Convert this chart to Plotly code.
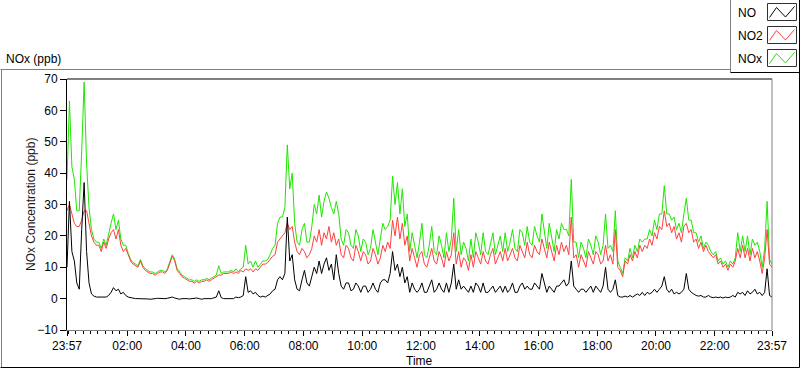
import plotly.graph_objects as go
from datetime import datetime, timedelta

# ---------------- data (ppb, 5-minute samples starting 23:57) ----------------
START = datetime(2000, 1, 1, 23, 57)
STEP_MIN = 5

NO = [
    10, 31, 15, 12, 5, 3, 22, 37, 15, 5,
    1.5, 0.8, 0.5, 0.5, 0.3, 0.5, 0.5, 1.0, 2.0, 3.5,
    2.5, 3.0, 1.5, 2.0, 1.0, 0.5, 0.3, 0.2, 0.0, 0.0,
    0.0, 0.1, 0.0, -0.1, -0.2, 0.0, 0.0, 0.1, 0.0, 0.0,
    0.0, 0.1, 0.3, 0.5, 0.2, 0.0, -0.2, 0.0, 0.1, 0.0,
    -0.1, 0.0, 0.0, 0.2, 0.0, -0.2, 0.0, 0.1, 0.0, 0.0,
    0.2, 0.5, 2.5, 0.3, 0.0, 0.0, 0.0, 0.2, 0.0, 0.5,
    0.3, 0.5, 1.0, 7.0, 2.0, 2.5, 1.5, 2.0, 1.0, 0.5,
    0.8, 0.5, 1.0, 1.5, 2.5, 3.0, 6.0, 7.0, 6.0, 8.0,
    26, 12, 14, 6, 3, 2.5, 6, 9, 5, 4,
    7, 10, 8, 12, 8, 11, 13, 9, 11, 6,
    14, 8, 4, 3, 5, 5, 2.5, 3, 5, 4,
    2, 4, 4, 2, 3, 5, 3, 2, 5, 6,
    6, 5, 8, 15, 9, 11, 7, 10, 5, 7,
    2, 5, 3, 2, 3, 5, 2, 2, 4, 6,
    2, 3, 5, 3, 2, 5, 2, 5, 11, 3,
    6, 3, 4, 3, 2, 4, 2, 5, 4, 2,
    5, 2, 2, 3, 4, 2, 3, 4, 2, 4,
    2, 3, 5, 2, 2, 4, 5, 3, 4, 3,
    3, 5, 4, 3, 8, 5, 2, 4, 3, 2,
    4, 4, 5, 6, 4, 5, 12, 4, 3, 2,
    3, 3, 2, 3, 4, 2, 4, 3, 2, 4,
    10, 3, 2, 3, 6, 1, 0.5, 0.5, 0.8, 0.5,
    1, 0.5, 1, 1.5, 1, 2, 1, 2, 1.5, 2,
    3, 2, 3, 4, 7, 3, 2, 3, 1.5, 2,
    1.5, 2, 3, 8, 3, 2, 1.5, 1, 0.8, 1,
    0.5, 0.5, 1, 0.5, 0.3, 0.5, 0.3, 0.5, 0.2, 0.5,
    0.3, 0.5, 1, 0.5, 2, 1.5, 2, 1, 2.5, 1.5,
    2, 3, 1.5, 2, 1, 2, 9.5, 1, 0.5,
]

NO2 = [
    28, 30, 27, 24, 23, 23, 25, 28, 28, 24,
    20, 18, 17, 17, 15, 18, 16, 19, 21, 22,
    19, 22, 17, 15, 16, 14, 12, 11, 10.5, 10,
    12, 10, 9, 8.5, 8, 8, 7.5, 8, 8.5, 8.5,
    8, 9, 11, 13.5, 12, 9, 8, 7, 6.5, 6,
    5.5, 5.5, 5, 5.5, 5, 5.5, 5.5, 6, 5.5, 6,
    6.5, 7, 7.5, 7.5, 8, 8, 8, 8.5, 8, 8.5,
    8, 9, 8.5, 9.5, 9, 9.5, 8.5, 9.5, 9, 10,
    11, 11, 11.5, 12.5, 13.5, 14, 18, 19, 20, 21,
    24, 22, 23, 18, 15, 14, 16, 15, 13, 14,
    16, 20, 18, 22, 17, 21, 19, 23, 18, 21,
    17, 19, 14, 13, 17, 16, 13, 12, 17, 15,
    12, 15, 14, 11, 12, 16, 14, 11, 13, 17,
    15, 18, 16, 25, 20, 26, 19, 24, 17, 20,
    12, 16, 13, 10, 14, 15, 11, 10, 13, 16,
    12, 11, 15, 13, 10, 15, 12, 14, 21, 11,
    15, 10, 13, 12, 9, 14, 10, 15, 13, 11,
    15, 12, 11, 14, 16, 11, 13, 15, 12, 16,
    12, 14, 16, 13, 12, 17, 15, 13, 18, 14,
    13, 17, 15, 14, 19, 16, 13, 18, 15, 12,
    17, 14, 18, 15, 17, 14, 26, 13, 14, 10,
    14, 12, 10, 15, 13, 11, 15, 14, 11, 12,
    17, 12, 14, 11, 22, 10, 9, 7, 12, 11,
    14, 12, 15, 13, 17, 15, 17, 16, 19, 17,
    21, 19, 23, 22, 28, 23, 24, 21, 23, 19,
    21, 18, 23, 24, 21, 22, 18, 19, 16, 18,
    15, 17, 15, 14, 13, 14, 11, 12, 10, 11,
    9, 11, 10, 12, 16, 13, 17, 13, 16, 12,
    16, 13, 15, 12, 8, 13, 22, 11, 10,
]

NOX = [
    38, 63, 42, 38, 28, 28, 47, 69, 43, 29,
    22, 19, 18, 18, 16, 19, 17, 21, 24, 27,
    22, 25, 19, 17, 17, 14.5, 12.5, 11.5, 11, 10.5,
    12.5, 10.5, 9.5, 9, 8.5, 8.5, 8, 8.5, 9, 9,
    8.5, 9.5, 11.5, 14, 12.5, 9.5, 8.5, 7.5, 7, 6.5,
    6, 6, 5.5, 6, 5.5, 6, 6, 6.5, 6, 6.5,
    7, 7.5, 10.5, 8, 8.5, 8.5, 8.5, 9, 8.5, 9.5,
    8.5, 9.5, 10, 17, 11, 12, 10, 12, 10, 11,
    12, 12, 12.5, 14, 16, 17, 24, 26, 26, 29,
    49, 35, 40, 24, 18, 17, 22, 24, 18, 18,
    23, 30, 27, 33, 26, 31, 34, 32, 29, 27,
    31, 27, 19, 17, 22, 21, 17, 16, 22, 20,
    15, 19, 18, 14, 16, 22, 18, 14, 19, 24,
    22, 23, 25, 39, 30, 37, 27, 35, 23, 27,
    15, 21, 17, 13, 18, 24, 14, 13, 17, 23,
    15, 14, 20, 17, 13, 21, 15, 19, 32, 15,
    22, 14, 18, 16, 12, 19, 13, 21, 18, 14,
    21, 15, 14, 18, 21, 14, 17, 20, 15, 21,
    15, 18, 22, 16, 15, 22, 21, 17, 23, 18,
    17, 23, 20, 18, 27, 22, 16, 24, 19, 15,
    22, 19, 24, 22, 22, 20, 38, 18, 18, 13,
    18, 16, 13, 19, 17, 14, 20, 18, 14, 17,
    27, 16, 17, 15, 28, 12, 10, 8, 13, 12,
    16, 13, 17, 15, 19, 18, 19, 19, 22, 20,
    25, 22, 27, 27, 36, 27, 27, 25, 26, 22,
    24, 21, 27, 32, 25, 25, 21, 21, 18, 20,
    16, 18, 17, 15, 14, 15, 12, 13, 11, 12,
    10, 12, 11, 13, 21, 15, 20, 15, 20, 14,
    19, 17, 18, 15, 10, 16, 31, 12.5, 11,
]

SERIES_NAMES = ["NO", "NO2", "NOx"]
SERIES_COLORS = ["#000000", "#ff4040", "#1ee600"]
TICK_TEXT = ["23:57", "02:00", "04:00", "06:00", "08:00", "10:00", "12:00",
             "14:00", "16:00", "18:00", "20:00", "22:00", "23:57"]
Y_RANGE = [-10, 70]
Y_DTICK = 10

# ---------------- figure ----------------
W, H = 800, 369
ML, MR, MT, MB = 67, 28, 79, 39
PW, PH = W - ML - MR, H - MT - MB


def pxx(x):
    return (x - ML) / PW


def pxy(y):
    return 1 - (y - MT) / PH


def times(n):
    return [START + timedelta(minutes=STEP_MIN * i) for i in range(n)]


END = START + timedelta(hours=24)
tick_vals = [START] + [datetime(2000, 1, 2, h) for h in range(2, 23, 2)] + [END]

FONT = "Liberation Sans, Arial, sans-serif"

fig = go.Figure()
# draw order: NOx underneath, then NO2, NO on top
for vals, name, col in [(NOX, "NOx", SERIES_COLORS[2]),
                        (NO2, "NO2", SERIES_COLORS[1]),
                        (NO, "NO", SERIES_COLORS[0])]:
    fig.add_trace(go.Scatter(x=times(len(vals)), y=vals, mode="lines", name=name,
                             line=dict(color=col, width=1), showlegend=False,
                             hoverinfo="skip"))

fig.update_layout(
    width=W, height=H,
    margin=dict(l=ML, r=MR, t=MT, b=MB, pad=0),
    paper_bgcolor="white", plot_bgcolor="white",
    font=dict(family=FONT, size=12, color="black"),
    xaxis=dict(
        range=[START, END], type="date",
        tickmode="array", tickvals=tick_vals, ticktext=TICK_TEXT,
        showgrid=False, zeroline=False,
        showline=True, linecolor="#808080", linewidth=1,
        ticks="outside", ticklen=5, tickcolor="black", tickwidth=1,
        tickfont=dict(family=FONT, size=12, color="black"),
        minor=dict(tick0="2000-01-02 00:00", dtick=15 * 60 * 1000,
                   ticks="outside", ticklen=3, tickcolor="black", tickwidth=1,
                   showgrid=False),
        fixedrange=True,
    ),
    yaxis=dict(
        range=Y_RANGE, dtick=Y_DTICK, tick0=0,
        showgrid=False, zeroline=False,
        showline=True, linecolor="black", linewidth=1,
        ticks="outside", ticklen=6, tickcolor="black", tickwidth=1,
        tickfont=dict(family=FONT, size=12, color="black"),
        fixedrange=True,
    ),
)

shapes = []
# plot frame: top black, right gray
shapes.append(dict(type="line", xref="paper", yref="paper", x0=0, x1=1, y0=1, y1=1,
                   line=dict(color="black", width=1)))
shapes.append(dict(type="line", xref="paper", yref="paper", x0=1, x1=1, y0=0, y1=1,
                   line=dict(color="#808080", width=1)))


def seg(x0, y0, x1, y1, col):
    shapes.append(dict(type="line", xref="paper", yref="paper",
                       x0=pxx(x0), y0=pxy(y0), x1=pxx(x1), y1=pxy(y1),
                       line=dict(color=col, width=1)))


# outer frame
seg(0.5, 69.5, 730.5, 69.5, "#808080")
seg(1.5, 69.5, 1.5, 367.5, "#808080")
seg(0.5, 367.5, 799.5, 367.5, "black")
seg(799.5, 0, 799.5, 367.5, "black")
seg(730.5, 0, 730.5, 72.5, "#808080")
seg(730.5, 72.5, 799.5, 72.5, "black")

annotations = []
# legend entries
for k, (name, col) in enumerate(zip(SERIES_NAMES, SERIES_COLORS)):
    y0 = 3.5 + 23 * k
    shapes.append(dict(type="rect", xref="paper", yref="paper",
                       x0=pxx(767.5), x1=pxx(796.5), y0=pxy(y0), y1=pxy(y0 + 17),
                       line=dict(color="#303030", width=1), fillcolor="white"))
    pts = [(769.5, y0 + 14), (776.5, y0 + 4), (785.5, y0 + 13.5), (794.5, y0 + 3)]
    path = "M " + " L ".join(f"{pxx(a):.5f},{pxy(b):.5f}" for a, b in pts)
    shapes.append(dict(type="path", xref="paper", yref="paper", path=path,
                       line=dict(color=col, width=1)))
    annotations.append(dict(text=name, xref="paper", yref="paper",
                            x=pxx(736), y=pxy(y0 + 9.5), xanchor="left", yanchor="middle",
                            showarrow=False, font=dict(family=FONT, size=12, color="black")))

annotations.append(dict(text="NOx (ppb)", xref="paper", yref="paper",
                        x=pxx(4), y=pxy(59), xanchor="left", yanchor="middle",
                        showarrow=False, font=dict(family=FONT, size=12, color="black")))
annotations.append(dict(text="NOx Concentration (ppb)", xref="paper", yref="paper",
                        x=pxx(31), y=pxy(205), xanchor="center", yanchor="middle",
                        textangle=-90, showarrow=False,
                        font=dict(family=FONT, size=12, color="#1a1a1a")))
annotations.append(dict(text="Time", xref="paper", yref="paper",
                        x=pxx(419), y=pxy(361), xanchor="center", yanchor="middle",
                        showarrow=False, font=dict(family=FONT, size=12, color="black")))

fig.update_layout(shapes=shapes, annotations=annotations)
fig.write_html("out.html", config={"displayModeBar": False},
               post_script="document.body.style.margin='0px';")
